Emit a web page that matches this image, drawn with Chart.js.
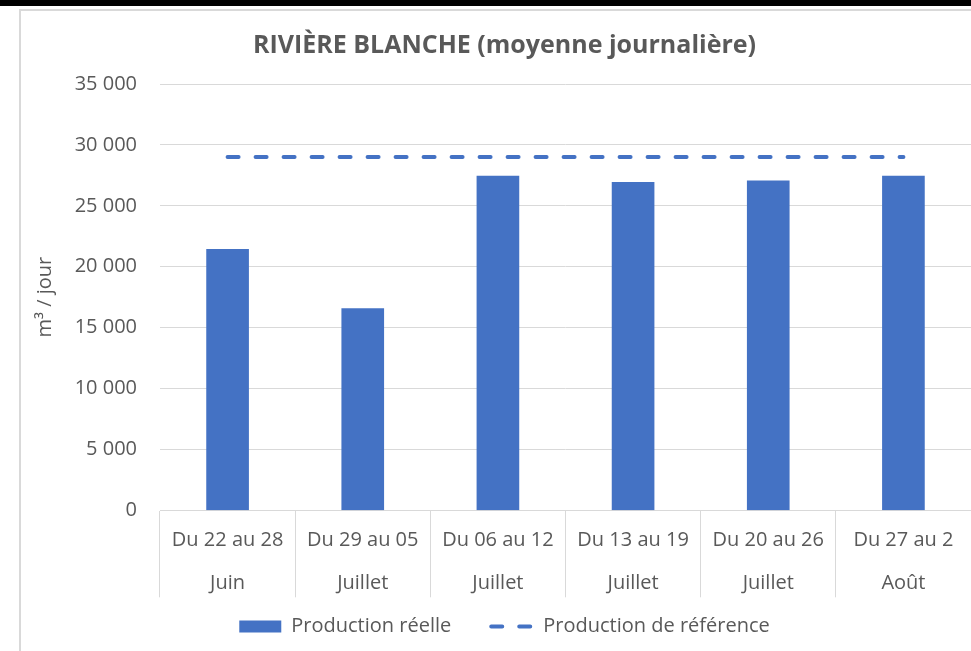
<!DOCTYPE html>
<html lang="fr">
  <head>
    <meta charset="UTF-8" />
    <title>Rivière Blanche</title>
    <script src="https://cdn.jsdelivr.net/npm/chart.js"></script>
    <style>
      body {
        margin: 0;
        background: #fff;
        width: 971px;
        height: 651px;
        overflow: hidden;
        position: relative;
      }
      .topBar {
        position: absolute;
        left: 0;
        top: 0;
        width: 971px;
        height: 6px;
        background: #000;
      }
      .frame {
        position: absolute;
        left: 19px;
        top: 9px;
        width: 952px;
        height: 642px;
        border-left: 2px solid #d9d9d9;
        border-top: 2px solid #d9d9d9;
        box-sizing: border-box;
      }
      .chartBox {
        position: absolute;
        left: 21px;
        top: 11px;
        width: 950px;
        height: 640px;
      }
    </style>
  </head>
  <body>
    <div class="topBar"></div>
    <div class="frame"></div>
    <div class="chartBox">
      <canvas id="riviere"></canvas>
    </div>

    <script>
      // valeurs
      const semaines = ["Du 22 au 28", "Du 29 au 05", "Du 06 au 12", "Du 13 au 19", "Du 20 au 26", "Du 27 au 2"];
      const mois = ["Juin", "Juillet", "Juillet", "Juillet", "Juillet", "Août"];
      const productionReelle = [21430, 16560, 27430, 26920, 27050, 27430];
      const productionReference = [29000, 29000, 29000, 29000, 29000, 29000];
      const yMax = 35000;
      const yStep = 5000;

      const bleu = "#4472C4";
      const gris = "#595959";
      const grille = "#d9d9d9";
      const police = "'Open Sans', 'Noto Sans', sans-serif";
      const tirets = [11, 17];

      const labels = semaines.map((s, i) => [s, mois[i]]);

      const fmt = (v) => String(v).replace(/\B(?=(\d{3})+(?!\d))/g, " ");

      Chart.defaults.font.family = police;
      Chart.defaults.color = gris;

      new Chart(document.getElementById("riviere"), {
        type: "bar",
        data: {
          labels: labels,
          datasets: [
            {
              type: "bar",
              label: "Production réelle",
              data: productionReelle,
              backgroundColor: bleu,
              barThickness: 42,
              pointStyle: "rect",
            },
            {
              type: "line",
              label: "Production de référence",
              data: productionReference,
              borderColor: bleu,
              backgroundColor: bleu,
              borderWidth: 4,
              borderDash: tirets,
              borderCapStyle: "round",
              pointRadius: 0,
              pointStyle: "line",
            },
          ],
        },
        options: {
          responsive: true,
          maintainAspectRatio: false,
          animation: false,
          layout: { padding: { left: 17, right: 0, top: 0, bottom: 4.5 } },
          plugins: {
            title: {
              display: true,
              text: "RIVIÈRE BLANCHE (moyenne journalière)",
              color: gris,
              font: { size: 25, weight: "bold" },
              padding: { top: 20, bottom: 23 },
            },
            legend: {
              position: "bottom",
              // titre vide à marge négative : garde l'écart entre les items sans grossir la légende
              title: {
                display: true,
                text: " ",
                font: { size: 1 },
                padding: { top: 0, bottom: -30 },
              },
              labels: {
                usePointStyle: true,
                pointStyleWidth: 42,
                boxHeight: 12,
                padding: 40,
                color: gris,
                font: { size: 20 },
                generateLabels: (chart) => {
                  const items = Chart.defaults.plugins.legend.labels.generateLabels(chart);
                  items.forEach((it) => {
                    if (it.pointStyle === "line") {
                      it.lineDash = tirets;
                      it.lineWidth = 4;
                      it.lineCap = "round";
                      it.strokeStyle = bleu;
                    }
                  });
                  return items;
                },
              },
            },
            tooltip: { enabled: false },
          },
          scales: {
            x: {
              offset: true,
              afterFit: (scale) => {
                scale.height = 95;
              },
              grid: {
                offset: true,
                drawOnChartArea: false,
                tickLength: 87,
                color: grille,
              },
              border: { color: grille },
              ticks: {
                padding: -78.5,
                color: gris,
                font: { size: 20, lineHeight: 43 / 20 },
                maxRotation: 0,
                autoSkip: false,
              },
            },
            y: {
              min: 0,
              max: yMax,
              afterFit: (scale) => {
                scale.width = 122;
              },
              grid: { color: grille, drawTicks: false },
              border: { display: false },
              ticks: {
                stepSize: yStep,
                padding: 23,
                color: gris,
                font: { size: 20 },
                callback: (v) => fmt(v),
              },
              title: {
                display: true,
                text: "m³ / jour",
                color: gris,
                font: { size: 20 },
                padding: { top: -5, bottom: 0 },
              },
            },
          },
        },
      });
    </script>
  </body>
</html>
